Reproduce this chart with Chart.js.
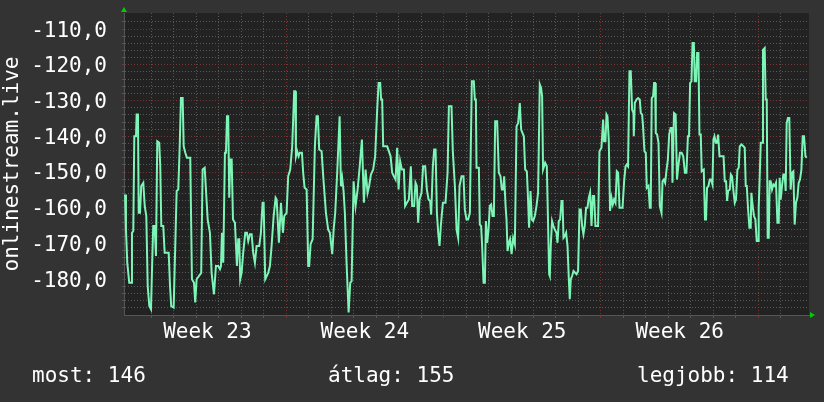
<!DOCTYPE html>
<html>
<head>
<meta charset="utf-8">
<script src="https://cdn.jsdelivr.net/npm/chart.js@4.4.1/dist/chart.umd.min.js"></script>
<style>
  body { margin: 0; background: #333333; }
  #wrap { position: relative; width: 824px; height: 402px; }
  .stat { position: absolute; top: 365px; font: 21px "DejaVu Sans Mono", monospace; line-height: 21px; color: #ffffff; white-space: pre; }
</style>
</head>
<body>
<div id="wrap">
  <canvas id="chart" width="824" height="402"></canvas>
  <div class="stat" id="s0" style="left:32px"></div>
  <div class="stat" id="s1" style="left:328px"></div>
  <div class="stat" id="s2" style="left:637px"></div>
</div>
<script>
// hours since monday 00:00 of week 23
var hours = [
  -3.9, -2.9, -1.5, 0.6, 2.5, 3.5, 4.9, 6.0, 7.8, 8.5, 9.9, 10.7, 12.1, 13.4, 15.6, 17.1, 18.8, 20.3, 22.0, 23.8,
  24.9, 26.2, 27.7, 29.1, 30.5, 32.6, 33.7, 34.8, 36.9, 38.4, 42.7, 44.1, 45.4, 48.0, 51.2, 52.9, 54.4, 55.8, 57.6, 58.7,
  60.4, 62.2, 65.7, 67.5, 69.7, 71.0, 72.5, 77.4, 78.9, 81.1, 84.3, 86.7, 88.5, 91.0, 93.1, 95.6, 97.4, 98.5, 99.5, 100.9,
  102.7, 103.8, 104.9, 106.2, 107.3, 108.4, 109.9, 111.3, 113.4, 115.5, 116.9, 118.0, 119.0, 120.5, 122.2, 124.4, 126.2, 127.6, 129.4, 131.2,
  132.9, 134.7, 136.5, 139.3, 141.1, 142.9, 144.0, 145.7, 148.9, 150.7, 152.5, 154.7, 156.8, 157.9, 160.3, 162.5, 164.6, 166.0, 168.5, 170.2,
  172.4, 174.5, 176.6, 177.7, 178.5, 179.8, 181.3, 182.7, 184.9, 186.2, 187.7, 189.9, 191.6, 192.6, 194.1, 196.3, 198.7, 200.5, 201.9, 203.3,
  205.9, 207.6, 210.5, 212.9, 214.7, 217.2, 218.7, 220.4, 222.5, 225.1, 226.5, 227.8, 229.3, 230.7, 232.5, 234.7, 236.4, 237.9, 240.0, 242.1,
  244.3, 246.4, 248.9, 251.0, 252.8, 254.9, 256.6, 258.5, 260.9, 263.0, 265.2, 266.7, 268.4, 269.4, 270.5, 271.6, 274.1, 275.8, 277.7, 279.5,
  281.2, 283.0, 284.8, 286.5, 288.0, 289.7, 291.5, 293.7, 295.0, 296.9, 299.0, 301.1, 302.5, 304.6, 306.1, 307.5, 308.9, 310.4, 312.5, 314.2,
  316.4, 318.2, 320.0, 321.7, 322.8, 324.6, 326.0, 327.5, 328.9, 330.3, 331.7, 333.1, 335.3, 338.1, 340.3, 341.7, 344.5, 345.9, 348.1, 349.9,
  351.6, 353.1, 355.2, 357.3, 358.7, 360.5, 362.2, 364.1, 365.1, 366.2, 368.3, 369.4, 370.5, 371.2, 373.7, 374.7, 376.1, 377.2, 378.7, 380.1,
  381.2, 382.5, 384.0, 385.4, 386.8, 388.3, 389.7, 391.1, 393.2, 395.0, 396.8, 398.2, 399.6, 400.7, 402.2, 403.2, 404.3, 405.7, 407.0, 408.6,
  410.3, 412.1, 413.9, 415.6, 417.4, 418.8, 420.3, 421.7, 423.1, 424.9, 425.9, 427.3, 428.8, 430.2, 431.6, 433.4, 435.2, 436.9, 438.7, 440.1,
  441.2, 442.2, 444.4, 446.2, 447.6, 448.7, 449.4, 450.5, 451.8, 453.3, 454.7, 456.5, 457.6, 459.0, 460.4, 461.9, 463.0, 464.0, 465.4, 466.8,
  468.3, 469.7, 470.7, 471.8, 473.2, 474.7, 477.9, 479.6, 481.1, 482.5, 483.9, 485.3, 486.7, 488.1, 489.6, 491.0, 492.4, 493.9, 495.3, 496.7,
  498.1, 500.9, 502.4, 504.5, 506.3, 507.3, 508.8, 509.9, 510.9, 512.3, 513.7, 515.2, 516.6, 518.0, 519.5, 520.9, 522.3, 523.8, 527.0, 528.7,
  530.2, 531.5, 532.9, 534.4, 535.8, 537.2, 538.7, 539.0, 540.1, 541.9, 543.6, 545.4, 546.5, 547.9, 548.9, 550.4, 551.8, 552.9, 554.7, 556.1,
  557.1, 558.2, 559.6, 560.7, 561.7, 562.5, 563.9, 565.4, 566.8, 568.6, 569.7, 571.1, 572.5, 574.0, 575.4, 576.8, 578.3, 579.7, 580.3, 581.9,
  583.7, 585.1, 586.5, 588.3, 590.1, 591.8, 593.6, 595.2, 596.8, 598.0, 599.1, 600.6, 601.7, 603.1, 604.1, 605.5, 606.6, 608.0, 609.1, 610.5,
  611.5, 613.7, 615.0, 616.1, 617.2, 618.7, 620.1, 621.5, 623.0, 624.0, 625.1, 626.5, 627.9, 629.0, 630.5, 634.8, 636.1, 637.5, 638.6, 639.7,
  641.5, 642.6, 643.9, 645.0, 646.8, 648.1, 649.6, 651.0, 652.1, 653.9, 656.0, 657.4, 658.5, 659.6, 660.9, 662.4, 663.8, 664.5, 665.9, 667.3,
  668.8, 670.2, 671.6, 672.3, 673.4, 674.5, 675.9, 676.9, 678.7, 679.8, 680.9, 681.9, 683.0, 684.1, 685.1, 686.5, 688.0, 689.4, 690.8, 692.3,
  693.7, 694.7, 695.8, 697.2, 698.6, 700.0, 701.1, 702.2, 703.5, 705.0, 706.4, 707.8, 709.3, 710.7, 712.1, 713.6, 715.0, 716.4, 717.9, 719.3,
  720.7, 722.2, 723.6
];
var level = [
  -156.3, -166.1, -175.4, -181.0, -181.0, -167.0, -166.5, -140.0, -140.0, -133.9, -133.9, -161.4, -161.4, -153.9, -153.0, -159.5, -162.3, -181.9, -187.5, -188.4,
  -177.2, -165.1, -165.1, -173.5, -141.4, -141.8, -148.4, -165.1, -165.1, -172.6, -172.6, -181.9, -187.5, -187.9, -155.3, -154.9, -143.2, -129.3, -129.3, -142.8,
  -144.6, -146.0, -146.0, -180.0, -181.0, -186.5, -180.0, -178.2, -149.3, -148.8, -163.3, -167.0, -178.2, -184.2, -176.3, -176.3, -177.2, -176.3, -167.0, -175.4,
  -144.6, -144.6, -134.4, -134.4, -157.2, -146.5, -146.5, -163.3, -164.2, -176.3, -168.8, -168.8, -180.0, -178.2, -172.6, -167.0, -167.0, -169.3, -167.4, -167.4,
  -172.6, -175.4, -170.7, -170.7, -167.0, -158.6, -158.6, -180.0, -178.2, -176.3, -170.7, -162.3, -157.2, -157.7, -169.8, -158.6, -167.0, -162.3, -161.4, -151.2,
  -149.3, -142.8, -127.4, -127.4, -145.6, -144.2, -145.6, -144.6, -144.6, -150.2, -154.4, -154.9, -176.3, -176.3, -170.2, -168.8, -142.8, -134.4, -134.4, -143.7,
  -144.2, -151.2, -161.4, -166.1, -167.0, -173.0, -166.1, -161.4, -150.2, -134.4, -154.0, -151.6, -155.3, -161.4, -175.4, -189.3, -181.0, -180.5, -152.6, -159.5,
  -154.9, -148.8, -140.9, -158.6, -149.3, -155.8, -153.9, -150.7, -149.3, -145.6, -132.5, -125.1, -125.1, -129.7, -129.7, -142.8, -142.8, -142.8, -144.2, -145.6,
  -150.2, -151.2, -152.1, -143.2, -154.9, -147.0, -149.3, -149.3, -159.5, -158.6, -157.7, -148.4, -159.5, -159.5, -153.0, -153.9, -164.2, -157.7, -155.8, -148.4,
  -148.4, -154.9, -157.7, -158.1, -161.9, -148.4, -143.7, -143.7, -161.4, -167.0, -170.7, -165.1, -158.6, -158.6, -150.2, -131.6, -131.6, -144.2, -153.9, -166.1,
  -168.4, -153.9, -151.2, -151.2, -160.5, -163.3, -163.3, -161.4, -142.8, -124.6, -124.6, -129.7, -129.7, -148.8, -148.8, -164.7, -165.1, -170.7, -181.0, -181.0,
  -163.7, -169.8, -166.1, -159.5, -159.1, -162.3, -162.3, -135.8, -135.8, -150.2, -151.2, -154.9, -154.9, -151.2, -159.5, -163.3, -172.1, -169.8, -168.8, -173.0,
  -168.4, -170.2, -137.2, -136.3, -130.7, -138.1, -139.1, -140.0, -149.3, -149.8, -155.8, -165.6, -155.3, -163.3, -163.7, -162.3, -159.5, -155.8, -125.5, -126.5,
  -128.8, -149.3, -147.4, -148.4, -165.1, -178.6, -179.1, -170.2, -163.7, -165.1, -166.1, -167.0, -169.8, -163.7, -163.3, -158.1, -158.1, -168.4, -167.9, -167.0,
  -170.7, -180.0, -185.6, -180.0, -179.1, -177.7, -178.6, -177.7, -160.5, -160.5, -165.1, -167.4, -165.1, -160.0, -160.0, -157.2, -155.8, -165.1, -156.7, -156.7,
  -165.1, -165.1, -144.2, -143.2, -135.3, -141.4, -141.4, -133.9, -134.4, -140.9, -160.9, -157.2, -159.1, -157.7, -158.6, -149.8, -150.2, -160.0, -160.0, -152.6,
  -148.4, -147.9, -148.4, -121.8, -121.8, -132.5, -133.5, -140.0, -130.7, -129.7, -129.3, -129.7, -133.5, -133.9, -137.2, -144.2, -144.6, -154.4, -153.9, -160.0,
  -160.0, -129.3, -128.8, -125.1, -125.1, -139.1, -139.5, -141.8, -159.5, -161.4, -152.6, -152.1, -153.0, -149.3, -146.5, -139.5, -137.7, -137.7, -153.0, -133.5,
  -133.9, -152.1, -148.4, -144.6, -144.6, -145.6, -150.2, -150.2, -140.0, -140.0, -125.1, -124.6, -113.9, -113.9, -124.6, -124.6, -116.7, -116.7, -139.5, -139.5,
  -149.8, -149.3, -163.3, -163.3, -154.4, -153.9, -152.1, -152.1, -153.5, -140.9, -140.0, -141.8, -141.8, -139.5, -145.6, -145.6, -152.6, -152.6, -158.1, -155.3,
  -154.9, -150.7, -151.2, -154.4, -158.6, -157.7, -149.3, -148.8, -142.8, -142.3, -142.8, -143.2, -153.9, -153.9, -160.0, -165.6, -165.6, -155.8, -159.5, -162.3,
  -163.3, -169.3, -169.3, -160.0, -151.2, -141.8, -141.8, -115.8, -115.3, -129.7, -129.7, -168.4, -168.4, -152.6, -152.6, -154.9, -153.5, -153.9, -153.0, -164.2,
  -164.2, -151.6, -157.7, -153.9, -150.7, -150.7, -155.3, -136.3, -134.9, -134.9, -154.9, -150.2, -149.8, -164.7, -158.6, -157.2, -153.0, -152.1, -149.3, -140.0,
  -140.0, -145.6, -146.0
];
var weekLabels = ['Week 23', 'Week 24', 'Week 25', 'Week 26'];
var statLabels = ['most', 'átlag', 'legjobb'];
var statValues = [146, 155, 114];

var mono = '"DejaVu Sans Mono", monospace';
var gridGray = '#585858', gridRed = '#7a3333';

statLabels.forEach(function (l, i) {
  document.getElementById('s' + i).textContent = l + ': ' + statValues[i];
});

var points = [];
for (let i = 0; i < hours.length; i++) {
  points.push({ x: hours[i], y: level[i] });
}

// canvas colour + the little green arrows rrdtool puts on the axes
var rrdLook = {
  id: 'rrdLook',
  beforeDraw: function (chart) {
    let a = chart.chartArea, c = chart.ctx;
    c.save();
    c.fillStyle = '#222222';
    c.fillRect(a.left, a.top, a.right - a.left, a.bottom - a.top);
    c.restore();
  },
  afterDraw: function (chart) {
    let a = chart.chartArea, c = chart.ctx;
    c.save();
    c.fillStyle = '#00cc00';
    c.beginPath();
    c.moveTo(a.left - 3, a.top - 1);
    c.lineTo(a.left + 3, a.top - 1);
    c.lineTo(a.left, a.top - 6);
    c.closePath();
    c.fill();
    c.beginPath();
    c.moveTo(a.right + 1, a.bottom - 3);
    c.lineTo(a.right + 1, a.bottom + 3);
    c.lineTo(a.right + 6, a.bottom);
    c.closePath();
    c.fill();
    c.restore();
  }
};

new Chart(document.getElementById('chart'), {
  type: 'line',
  data: {
    datasets: [{
      data: points,
      borderColor: '#7df5b7',
      borderWidth: 2,
      pointRadius: 0,
      tension: 0,
      fill: false
    }]
  },
  options: {
    responsive: false,
    animation: false,
    layout: { padding: { top: 13, right: 15, left: 0, bottom: 0 } },
    plugins: { legend: { display: false }, tooltip: { enabled: false } },
    scales: {
      x: {
        type: 'linear',
        min: -5,
        max: 726,
        afterFit: function (s) { s.height = 87; s.paddingLeft = 0; s.paddingRight = 0; },
        grid: {
          color: function (ctx) {
            let v = Math.round(ctx.tick.value);
            if (v !== ctx.tick.value) return 'transparent';
            if (v % 168 === 0) return gridRed;
            if (v % 24 === 0) return gridGray;
            return 'transparent';
          },
          tickLength: 3
        },
        border: { color: '#555555', dash: [1, 2] },
        ticks: {
          stepSize: 12,
          autoSkip: false,
          maxRotation: 0,
          padding: 2,
          color: '#ffffff',
          font: { family: mono, size: 21 },
          callback: function (v) {
            let k = (v - 84) / 168;
            return (Number.isInteger(k) && weekLabels[k]) ? weekLabels[k] : '';
          }
        }
      },
      y: {
        min: -190,
        max: -105.5,
        afterFit: function (s) { s.width = 124; s.paddingTop = 0; s.paddingBottom = 0; },
        grid: {
          color: function (ctx) {
            let v = ctx.tick.value;
            if (v === -190 || v === -105.5) return 'transparent';
            return (v % 10 === 0) ? gridRed : gridGray;
          },
          tickLength: 2
        },
        border: { color: '#555555', dash: [1, 2] },
        title: {
          display: true,
          text: 'onlinestream.live',
          color: '#ffffff',
          font: { family: mono, size: 21 },
          padding: { top: 0, bottom: 0 }
        },
        ticks: {
          stepSize: 2,
          autoSkip: false,
          padding: 15,
          labelOffset: 2,
          color: '#ffffff',
          font: { family: mono, size: 21 },
          callback: function (v) {
            return (v % 10 === 0 && v > -190) ? v.toFixed(1).replace('.', ',') : '';
          }
        }
      }
    }
  },
  plugins: [rrdLook]
});
</script>
</body>
</html>
